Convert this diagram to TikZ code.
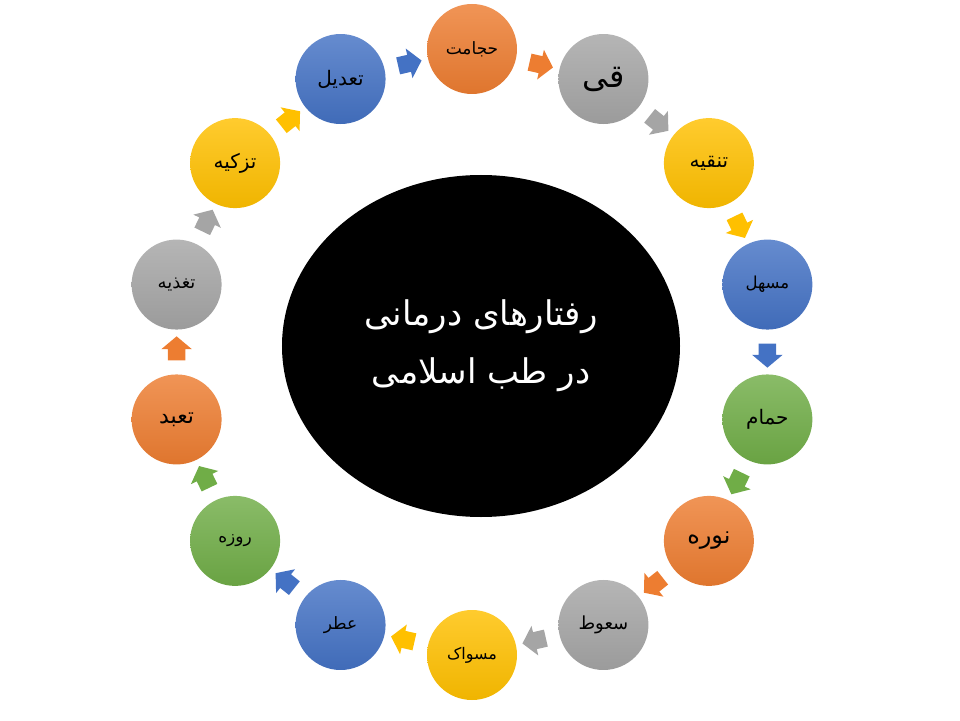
\documentclass[tikz,border=0pt]{standalone}
\usepackage{fontspec}
\newfontfamily\arabicfont[Script=Arabic]{DejaVu Sans}
\TeXXeTstate=1
\usetikzlibrary{shapes.arrows,shapes.geometric}

\definecolor{orangeA}{HTML}{ED7D31}
\definecolor{grayA}{HTML}{A5A5A5}
\definecolor{goldA}{HTML}{FFC000}
\definecolor{blueA}{HTML}{4472C4}
\definecolor{greenA}{HTML}{70AD47}

\newcommand{\faword}[2]{\fontsize{#1}{#1}\selectfont\beginR #2\endR}

\tikzset{
    stage/.style={circle, minimum size=90pt, inner sep=0pt, font=\arabicfont,
        top color=#1!82!white, bottom color=#1!94!black},
    flowarrow/.style={single arrow, minimum height=24pt, inner sep=0pt,
        single arrow head extend=6.5pt, single arrow tip angle=100, fill=#1,
        midway, sloped, allow upside down},
    hub/.style={ellipse, fill=black, minimum width=398pt, minimum height=342pt,
        text=white, align=center, font=\arabicfont\fontsize{34}{58}\selectfont}
}

\begin{document}
\begin{tikzpicture}[x=1pt, y=1pt]
        \useasboundingbox (-472,-368) rectangle (488,352);

        % Draw the centre
        \node[hub] (hub) at (9,6) {\beginR رفتارهای درمانی\endR\\\beginR در طب اسلامی\endR};

        % Draw the circles of the cycle
        \node[stage=orangeA] (hijamat) at (90:303) {\faword{17}{حجامت}};
        \node[stage=grayA] (qey) at (64.29:303) {\faword{32}{قی}};
        \node[stage=goldA] (tanqiye) at (38.57:303) {\faword{20}{تنقیه}};
        \node[stage=blueA] (mos-hel) at (12.86:303) {\faword{16.5}{مسهل}};
        \node[stage=greenA] (hammam) at (-12.86:303) {\faword{20}{حمام}};
        \node[stage=orangeA] (noure) at (-38.57:303) {\faword{24}{نوره}};
        \node[stage=grayA] (saout) at (-64.29:303) {\faword{18}{سعوط}};
        \node[stage=goldA] (mesvak) at (-90:303) {\faword{16}{مسواک}};
        \node[stage=blueA] (atr) at (-115.71:303) {\faword{17}{عطر}};
        \node[stage=greenA] (ruze) at (-141.43:303) {\faword{17}{روزه}};
        \node[stage=orangeA] (taabbod) at (-167.14:303) {\faword{22}{تعبد}};
        \node[stage=grayA] (taghziye) at (167.14:303) {\faword{18}{تغذیه}};
        \node[stage=goldA] (tazkiye) at (141.43:303) {\faword{20}{تزکیه}};
        \node[stage=blueA] (tadil) at (115.71:303) {\faword{20}{تعدیل}};

        % Draw the arrows between the circles
        \path (hijamat) -- (qey) node[flowarrow=orangeA] {\rule{0pt}{17pt}};
        \path (qey) -- (tanqiye) node[flowarrow=grayA] {\rule{0pt}{17pt}};
        \path (tanqiye) -- (mos-hel) node[flowarrow=goldA] {\rule{0pt}{17pt}};
        \path (mos-hel) -- (hammam) node[flowarrow=blueA] {\rule{0pt}{17pt}};
        \path (hammam) -- (noure) node[flowarrow=greenA] {\rule{0pt}{17pt}};
        \path (noure) -- (saout) node[flowarrow=orangeA] {\rule{0pt}{17pt}};
        \path (saout) -- (mesvak) node[flowarrow=grayA] {\rule{0pt}{17pt}};
        \path (mesvak) -- (atr) node[flowarrow=goldA] {\rule{0pt}{17pt}};
        \path (atr) -- (ruze) node[flowarrow=blueA] {\rule{0pt}{17pt}};
        \path (ruze) -- (taabbod) node[flowarrow=greenA] {\rule{0pt}{17pt}};
        \path (taabbod) -- (taghziye) node[flowarrow=orangeA] {\rule{0pt}{17pt}};
        \path (taghziye) -- (tazkiye) node[flowarrow=grayA] {\rule{0pt}{17pt}};
        \path (tazkiye) -- (tadil) node[flowarrow=goldA] {\rule{0pt}{17pt}};
        \path (tadil) -- (hijamat) node[flowarrow=blueA] {\rule{0pt}{17pt}};
    \end{tikzpicture}
\end{document}
